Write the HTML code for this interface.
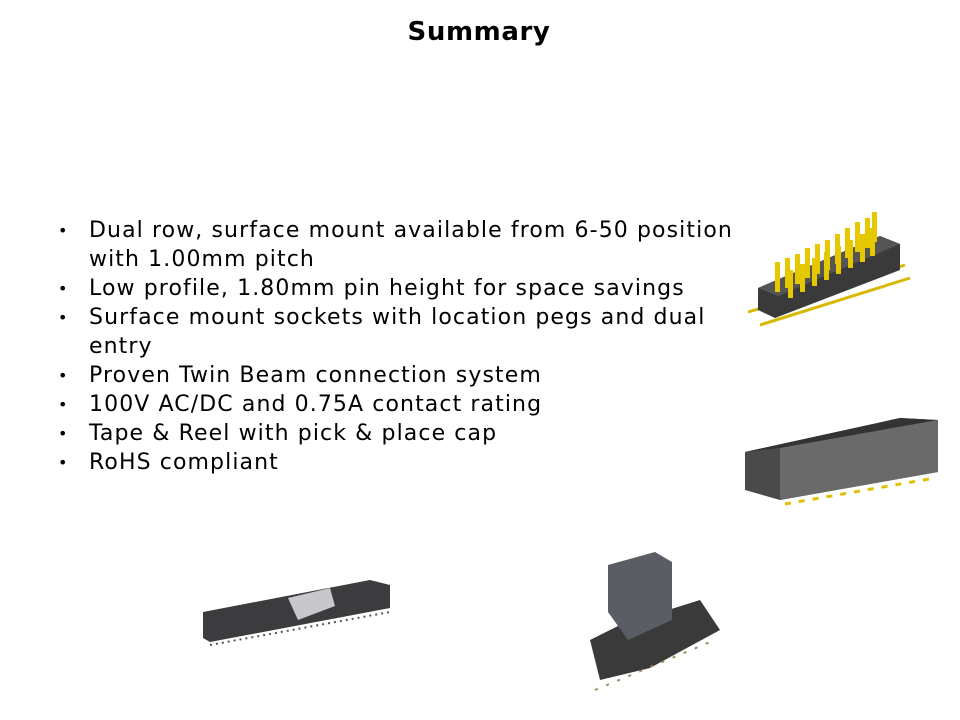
<!DOCTYPE html>
<html><head><meta charset="utf-8"><style>
body{margin:0;width:960px;height:720px;background:#fff;position:relative;overflow:hidden;font-family:"DejaVu Sans","Liberation Sans",sans-serif;}
h1{position:absolute;top:17px;left:0;width:958px;text-align:center;margin:0;font-size:26px;letter-spacing:0.6px;font-weight:bold;color:#000;}
ul{position:absolute;left:56px;top:216px;margin:0;padding:0;list-style:none;font-size:22px;letter-spacing:1.1px;line-height:29px;color:#000;}
li{position:relative;padding-left:33px;width:665px;}
li:before{content:"•";position:absolute;left:2px;font-size:16px;}
svg{position:absolute;left:0;top:0}
</style></head><body>
<h1>Summary</h1>
<ul>
<li>Dual row, surface mount available from 6-50 position with 1.00mm pitch</li>
<li>Low profile, 1.80mm pin height for space savings</li>
<li>Surface mount sockets with location pegs and dual entry</li>
<li>Proven Twin Beam connection system</li>
<li>100V AC/DC and 0.75A contact rating</li>
<li>Tape &amp; Reel with pick &amp; place cap</li>
<li>RoHS compliant</li>
</ul>
<svg width="960" height="720">
<g stroke="#d8b800" stroke-width="3">
<line x1="748" y1="312" x2="905" y2="265"/>
<line x1="760" y1="325" x2="910" y2="278"/>
</g>
<polygon points="758,288 880,236 900,244 900,270 775,318 758,310" fill="#3a3a3a"/>
<polygon points="758,288 880,236 900,244 778,296" fill="#555"/>
<g fill="#e6c800">
<rect x="775" y="262" width="5" height="30"/><rect x="785" y="258" width="5" height="30"/><rect x="795" y="254" width="5" height="30"/><rect x="805" y="248" width="5" height="30"/><rect x="815" y="244" width="5" height="30"/><rect x="825" y="240" width="5" height="30"/><rect x="835" y="234" width="5" height="30"/><rect x="845" y="228" width="5" height="30"/><rect x="855" y="222" width="5" height="30"/><rect x="865" y="218" width="5" height="30"/><rect x="872" y="212" width="5" height="30"/>
<rect x="788" y="270" width="5" height="28"/><rect x="800" y="264" width="5" height="28"/><rect x="812" y="258" width="5" height="28"/><rect x="824" y="252" width="5" height="28"/><rect x="836" y="246" width="5" height="28"/><rect x="848" y="240" width="5" height="28"/><rect x="860" y="234" width="5" height="28"/><rect x="870" y="228" width="5" height="28"/>
</g>
<polygon points="745,452 900,418 938,420 938,472 780,500 745,490" fill="#4a4a4a"/>
<polygon points="745,452 900,418 938,420 780,448" fill="#333"/>
<polygon points="780,448 938,420 938,472 780,500" fill="#6a6a6a"/>
<g stroke="#e0c000" stroke-width="3"><line x1="785" y1="504" x2="935" y2="478" stroke-dasharray="6,8"/></g>
<polygon points="203,612 370,580 390,585 390,608 210,642 203,638" fill="#3c3c3e"/>
<polygon points="288,598 330,588 335,606 298,620" fill="#c8c8cc"/>
<line x1="210" y1="645" x2="390" y2="612" stroke="#555" stroke-width="2" stroke-dasharray="2,4"/>
<polygon points="590,640 620,625 700,600 720,630 650,668 600,680" fill="#3a3a3a"/>
<polygon points="608,565 655,552 672,562 672,620 628,640 608,612" fill="#5a5d63"/>
<g stroke="#a08a60" stroke-width="2"><line x1="595" y1="690" x2="715" y2="640" stroke-dasharray="3,9"/></g>
</svg>
</body></html>
